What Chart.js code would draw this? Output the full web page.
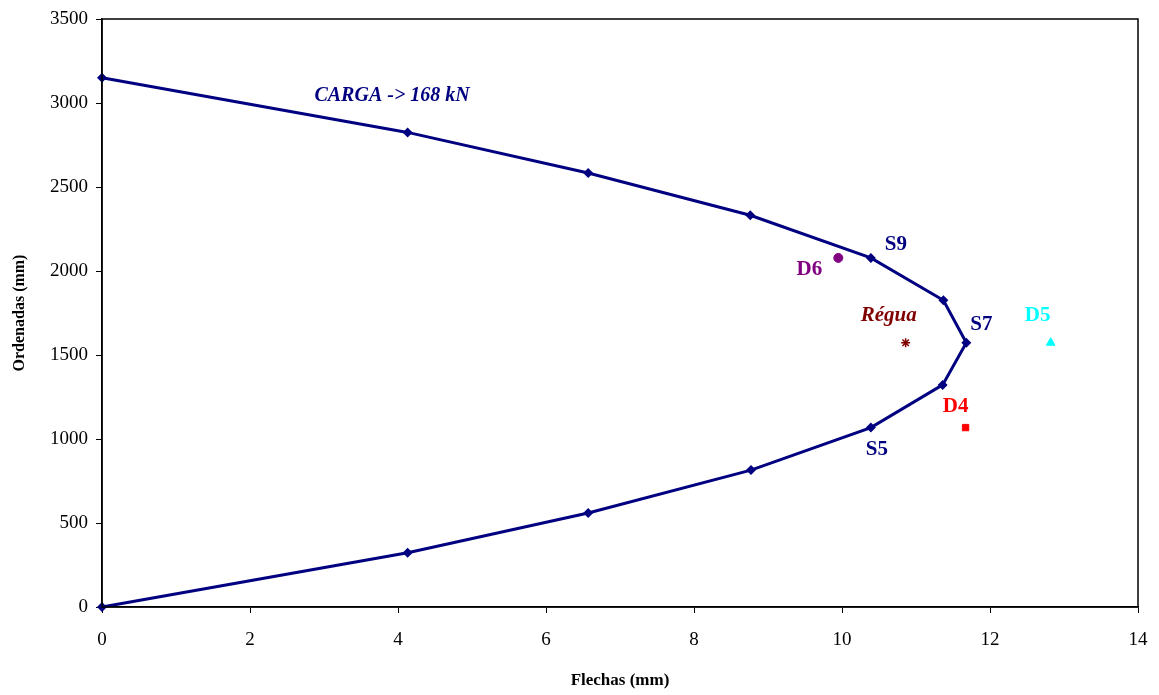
<!DOCTYPE html>
<html>
<head>
<meta charset="utf-8">
<script src="https://cdn.jsdelivr.net/npm/chart.js@4/dist/chart.umd.min.js"></script>
<style>
  html, body { margin: 0; padding: 0; background: #fff; }
  #wrap { width: 1159px; height: 695px; }
</style>
</head>
<body>
<div id="wrap"><canvas id="flechas" width="1159" height="695"></canvas></div>
<script>
// Data
var flechas   = [0, 4.13, 6.57, 8.76, 10.39, 11.37, 11.68, 11.36, 10.39, 8.77, 6.57, 4.13, 0];
var ordenadas = [3150, 2825, 2583, 2332, 2078, 1826, 1573, 1322, 1068, 815, 560, 323, 0];
var d6 = { x: 9.95, y: 2078 };
var regua = { x: 10.86, y: 1573 };
var d5 = { x: 12.82, y: 1573 };
var d4 = { x: 11.67, y: 1068 };
var xTicks = [0, 2, 4, 6, 8, 10, 12, 14];
var yTicks = [0, 500, 1000, 1500, 2000, 2500, 3000, 3500];
var cargaText = 'CARGA -> 168 kN';

var serif = '"Liberation Serif", "Times New Roman", serif';

// Labels tied to a point (pixel offsets from it)
var pointLabels = [
    { text: 'S9', ds: 0, idx: 4, dx: 25, dy: -13, color: '#000080', italic: false },
    { text: 'S7', ds: 0, idx: 6, dx: 15, dy: -18, color: '#000080', italic: false },
    { text: 'S5', ds: 0, idx: 8, dx: 6, dy: 22, color: '#000080', italic: false },
    { text: 'D6', ds: 1, idx: 0, dx: -29, dy: 12, color: '#800080', italic: false },
    { text: 'Régua', ds: 2, idx: 0, dx: -17, dy: -27, color: '#800000', italic: true },
    { text: 'D5', ds: 3, idx: 0, dx: -13, dy: -27, color: '#00FFFF', italic: false },
    { text: 'D4', ds: 4, idx: 0, dx: -10, dy: -21, color: '#FF0000', italic: false }
];

var labelPlugin = {
    id: 'labels',
    afterDatasetsDraw: function(chart) {
        var ctx = chart.ctx;
        var area = chart.chartArea;
        ctx.save();
        // frame around the plot area
        ctx.strokeStyle = '#000';
        ctx.lineWidth = 1.5;
        ctx.strokeRect(area.left, area.top, area.right - area.left, area.bottom - area.top);

        ctx.textAlign = 'center';
        ctx.textBaseline = 'middle';
        pointLabels.forEach(function(l) {
            var el = chart.getDatasetMeta(l.ds).data[l.idx];
            ctx.font = (l.italic ? 'italic ' : '') + 'bold 21px ' + serif;
            ctx.fillStyle = l.color;
            ctx.fillText(l.text, el.x + l.dx, el.y + l.dy);
        });

        // load label
        var xs = chart.scales.x, ys = chart.scales.y;
        ctx.font = 'italic bold 20px ' + serif;
        ctx.fillStyle = '#000080';
        ctx.fillText(cargaText, xs.getPixelForValue(3.92), ys.getPixelForValue(3043));
        ctx.restore();
    }
};

var curve = flechas.map(function(v, i) { return { x: v, y: ordenadas[i] }; });

new Chart(document.getElementById('flechas'), {
    type: 'scatter',
    data: {
        datasets: [
            {
                data: curve,
                showLine: true,
                clip: false,
                borderColor: '#000080',
                backgroundColor: '#000080',
                borderWidth: 3,
                pointStyle: 'rectRot',
                pointRadius: 5,
                pointBorderWidth: 0
            },
            { data: [d6], pointStyle: 'circle', pointRadius: 4.5, backgroundColor: '#800080', borderColor: '#800080' },
            { data: [regua], pointStyle: 'star', pointRadius: 4.5, borderWidth: 1.5, borderColor: '#800000', backgroundColor: '#800000' },
            { data: [d5], pointStyle: 'triangle', pointRadius: 5, backgroundColor: '#00FFFF', borderColor: '#00FFFF' },
            { data: [d4], pointStyle: 'rect', pointRadius: 4.5, backgroundColor: '#FF0000', borderColor: '#FF0000' }
        ]
    },
    options: {
        responsive: false,
        animation: false,
        layout: { padding: { top: 19, right: 21, left: 0, bottom: 0 } },
        plugins: {
            legend: { display: false },
            tooltip: { enabled: false }
        },
        scales: {
            x: {
                type: 'linear',
                min: 0,
                max: 14,
                afterBuildTicks: function(s) { s.ticks = xTicks.map(function(v) { return { value: v }; }); },
                afterFit: function(s) { s.height = 88; s.paddingRight = 0; s.paddingLeft = 0; },
                grid: { drawOnChartArea: false, drawTicks: true, tickLength: 6, color: '#000' },
                border: { color: '#000', width: 1.5 },
                ticks: { color: '#000', font: { family: serif, size: 19 }, padding: 16, callback: function(v) { return String(v); } },
                title: { display: true, text: 'Flechas (mm)', color: '#000', font: { family: serif, size: 17, weight: 'bold' }, padding: { top: 12 } }
            },
            y: {
                type: 'linear',
                min: 0,
                max: 3500,
                afterBuildTicks: function(s) { s.ticks = yTicks.map(function(v) { return { value: v }; }); },
                afterFit: function(s) { s.width = 102; s.paddingTop = 0; s.paddingBottom = 0; },
                grid: { drawOnChartArea: false, drawTicks: true, tickLength: 6, color: '#000' },
                border: { color: '#000', width: 1.5 },
                ticks: { color: '#000', font: { family: serif, size: 19 }, padding: 8, callback: function(v) { return String(v); } },
                title: { display: true, text: 'Ordenadas (mm)', color: '#000', font: { family: serif, size: 16, weight: 'bold' }, padding: { top: 10, bottom: 0 } }
            }
        }
    },
    plugins: [labelPlugin]
});
</script>
</body>
</html>
